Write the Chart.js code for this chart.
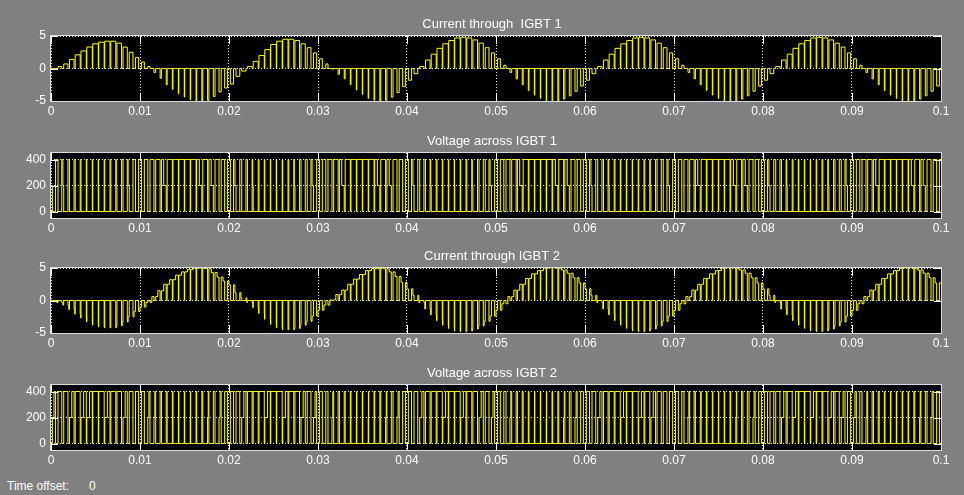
<!DOCTYPE html>
<html>
<head>
<meta charset="utf-8">
<script src="https://cdn.jsdelivr.net/npm/chart.js@4.4.0/dist/chart.umd.min.js"></script>
<style>
  body { margin: 0; width: 964px; height: 495px; background: #808080; position: relative; overflow: hidden;
         font-family: "Liberation Sans", Arial, sans-serif; }
  canvas { position: absolute; left: 0; display: block; }
  #offset { position: absolute; left: 7px; top: 479px; font-size: 12px; line-height: 14px; color: #ffffff; }
  #offset span { position: absolute; left: 82px; }
</style>
</head>
<body>
<canvas id="cur1" width="964" height="125" style="top:0px"></canvas>
<canvas id="volt1" width="964" height="125" style="top:117px"></canvas>
<canvas id="cur2" width="964" height="125" style="top:232px"></canvas>
<canvas id="volt2" width="964" height="125" style="top:349px"></canvas>
<div id="offset">Time offset:<span>0</span></div>
<script>
// Simulink scope: 4 traces, 0..0.1 s, one entry per switching period (150 periods)

const titles = ['Current through  IGBT 1', 'Voltage across IGBT 1', 'Current through IGBT 2', 'Voltage across IGBT 2'];
const xTicks = [0, 0.01, 0.02, 0.03, 0.04, 0.05, 0.06, 0.07, 0.08, 0.09, 0.1];
const xTickLabels = ['0', '0.01', '0.02', '0.03', '0.04', '0.05', '0.06', '0.07', '0.08', '0.09', '0.1'];
const currentTicks = [-5, 0, 5];
const voltageTicks = [0, 200, 400];

// load current level in each switching period (A)
const loadCurrent = [
  0.0, 0.3, 0.7, 1.4, 2.1, 2.7, 3.3, 3.8, 4.05, 4.2, 4.2, 3.9, 3.3, 2.5, 1.7, 1.0, 0.3, -0.6, -1.5, -2.5, -3.2, -3.9, -4.4, -4.8, -5.0, -5.0, -4.9, -4.3, -3.6, -3.0,
  -2.4, -1.2, -0.4, 0.3, 1.1, 2.0, 2.9, 3.7, 4.2, 4.5, 4.5, 4.3, 3.8, 3.2, 2.4, 1.5, 0.7, -0.1, -0.9, -1.6, -2.5, -3.3, -4.0, -4.6, -4.9, -5.0, -4.9, -4.4, -3.7, -2.8,
  -1.8, -0.8, 0.3, 1.3, 2.2, 3.1, 3.8, 4.3, 4.7, 4.8, 4.7, 4.4, 3.9, 3.2, 2.4, 1.5, 0.5, -0.6, -1.6, -2.5, -3.4, -4.1, -4.6, -5.0, -5.1, -5.0, -4.7, -4.2, -3.5, -2.7,
  -1.8, -0.8, 0.3, 1.3, 2.2, 3.1, 3.8, 4.3, 4.7, 4.8, 4.7, 4.4, 3.9, 3.2, 2.4, 1.5, 0.5, -0.6, -1.6, -2.5, -3.4, -4.1, -4.6, -5.0, -5.1, -5.0, -4.7, -4.2, -3.5, -2.7,
  -1.8, -0.8, 0.3, 1.3, 2.2, 3.1, 3.8, 4.3, 4.7, 4.8, 4.7, 4.4, 3.9, 3.3, 2.4, 1.5, 0.5, -0.6, -1.6, -2.5, -3.4, -4.1, -4.6, -5.0, -5.1, -5.0, -4.7, -4.2, -3.5, -2.7
];

// on-fraction of the upper switch in each period
const upperDuty = [
  0.54, 0.63, 0.71, 0.78, 0.84, 0.89, 0.92, 0.93, 0.92, 0.89, 0.84, 0.78, 0.71, 0.63, 0.54, 0.46, 0.37, 0.29, 0.22, 0.16, 0.11, 0.08, 0.07, 0.08, 0.11, 0.16, 0.22, 0.29, 0.37, 0.46,
  0.54, 0.63, 0.71, 0.78, 0.84, 0.89, 0.92, 0.93, 0.92, 0.89, 0.84, 0.78, 0.71, 0.63, 0.54, 0.46, 0.37, 0.29, 0.22, 0.16, 0.11, 0.08, 0.07, 0.08, 0.11, 0.16, 0.22, 0.29, 0.37, 0.46,
  0.54, 0.63, 0.71, 0.78, 0.84, 0.89, 0.92, 0.93, 0.92, 0.89, 0.84, 0.78, 0.71, 0.63, 0.54, 0.46, 0.37, 0.29, 0.22, 0.16, 0.11, 0.08, 0.07, 0.08, 0.11, 0.16, 0.22, 0.29, 0.37, 0.46,
  0.54, 0.63, 0.71, 0.78, 0.84, 0.89, 0.92, 0.93, 0.92, 0.89, 0.84, 0.78, 0.71, 0.63, 0.54, 0.46, 0.37, 0.29, 0.22, 0.16, 0.11, 0.08, 0.07, 0.08, 0.11, 0.16, 0.22, 0.29, 0.37, 0.46,
  0.54, 0.63, 0.71, 0.78, 0.84, 0.89, 0.92, 0.93, 0.92, 0.89, 0.84, 0.78, 0.71, 0.63, 0.54, 0.46, 0.37, 0.29, 0.22, 0.16, 0.11, 0.08, 0.07, 0.08, 0.11, 0.16, 0.22, 0.29, 0.37, 0.46
];

// periods where the voltage sits at the 200 V mid level for a while
const midStepV1 = [0, 2, 8, 11, 13, 19, 25, 27, 31, 34, 38, 41, 44, 49, 55, 57, 61, 64, 68, 71, 74, 79, 85, 87, 91, 94, 98, 101, 104, 109, 115, 117, 121, 124, 128, 131, 134, 139, 145, 147];
const midStepV2 = [0, 3, 5, 6, 9, 12, 16, 17, 21, 23, 26, 28, 32, 36, 39, 42, 44, 47, 51, 53, 56, 58, 62, 66, 69, 72, 74, 77, 81, 83, 86, 88, 92, 96, 99, 101, 107, 109, 112, 115, 118, 123, 125, 128, 131, 133, 135, 137, 141, 146, 148];

const T = 0.1 / loadCurrent.length;

function makeTrace(kind) {
  const pts = [];
  loadCurrent.forEach((cur, k) => {
    const t0 = k * T;
    const gap = (1 - upperDuty[k]) * T / 2;
    const tOn = t0 + gap, tOff = t0 + T - gap;
    if (kind === 'i1') {
      pts.push({ x: t0, y: 0 }, { x: tOn, y: cur }, { x: tOff, y: 0 });
    } else if (kind === 'i2') {
      pts.push({ x: t0, y: -cur }, { x: tOn, y: 0 }, { x: tOff, y: -cur });
    } else if (kind === 'v1') {
      pts.push({ x: t0, y: midStepV1.includes(k) ? 200 : 400 }, { x: tOn, y: 0 }, { x: tOff, y: 400 });
    } else {
      pts.push({ x: t0, y: 0 });
      if (midStepV2.includes(k)) pts.push({ x: tOn, y: 200 }, { x: (tOn + tOff) / 2, y: 400 });
      else pts.push({ x: tOn, y: 400 });
      pts.push({ x: tOff, y: 0 });
    }
  });
  pts.push({ x: 0.1, y: pts[pts.length - 1].y });
  return pts;
}

// black plot area, box, solid tick marks and the title
const scopeFrame = {
  id: 'scopeFrame',
  beforeDraw(chart) {
    const a = chart.chartArea, ctx = chart.ctx;
    ctx.save();
    ctx.fillStyle = '#000000';
    ctx.fillRect(a.left, a.top, a.right - a.left, a.bottom - a.top);
    ctx.restore();
  },
  afterDraw(chart, args, opts) {
    const a = chart.chartArea, ctx = chart.ctx;
    const xs = chart.scales.x, ys = chart.scales.y;
    ctx.save();
    ctx.strokeStyle = '#ffffff';
    ctx.lineWidth = 1;
    ctx.beginPath();
    xs.ticks.forEach(t => {
      const px = Math.round(xs.getPixelForValue(t.value)) + 0.5;
      ctx.moveTo(px, a.top); ctx.lineTo(px, a.top + 8);
      ctx.moveTo(px, a.bottom); ctx.lineTo(px, a.bottom - 8);
    });
    ys.ticks.forEach(t => {
      const py = Math.round(ys.getPixelForValue(t.value)) + 0.5;
      ctx.moveTo(a.left, py); ctx.lineTo(a.left + 7, py);
      ctx.moveTo(a.right, py); ctx.lineTo(a.right - 7, py);
    });
    ctx.stroke();
    ctx.strokeStyle = '#dcdcdc';
    ctx.strokeRect(a.left - 0.5, a.top - 0.5, a.right - a.left + 1, a.bottom - a.top + 1);
    ctx.fillStyle = '#ffffff';
    ctx.font = '13px "Liberation Sans", Arial, sans-serif';
    ctx.textAlign = 'center';
    ctx.textBaseline = 'middle';
    ctx.fillText(opts.title, (a.left + a.right) / 2 - 4, a.top - 12);
    ctx.restore();
  }
};

function scopeChart(id, title, points, yMin, yMax, yTicks) {
  return new Chart(document.getElementById(id), {
    type: 'line',
    data: {
      datasets: [{
        data: points,
        borderColor: '#ffff00',
        borderWidth: 1,
        pointRadius: 0,
        stepped: true,
        tension: 0
      }]
    },
    options: {
      responsive: false,
      animation: false,
      events: [],
      layout: { padding: { top: 36, right: 23, left: 0, bottom: 0 } },
      plugins: {
        legend: { display: false },
        tooltip: { enabled: false },
        scopeFrame: { title: title }
      },
      scales: {
        x: {
          type: 'linear',
          min: 0,
          max: 0.1,
          afterBuildTicks: s => { s.ticks = xTicks.map(v => ({ value: v })); },
          afterFit: s => { s.height = 24; },
          grid: { color: 'rgba(255,255,255,0.9)', drawTicks: false },
          border: { display: false, dash: [1, 2] },
          ticks: {
            color: '#ffffff',
            font: { size: 12, family: '"Liberation Sans", Arial, sans-serif' },
            padding: 3,
            maxRotation: 0,
            autoSkip: false,
            callback: (v, i) => xTickLabels[i]
          }
        },
        y: {
          min: yMin,
          max: yMax,
          afterBuildTicks: s => { s.ticks = yTicks.map(v => ({ value: v })); },
          afterFit: s => { s.width = 51; },
          grid: { color: 'rgba(255,255,255,0.9)', drawTicks: false },
          border: { display: false, dash: [1, 2] },
          ticks: {
            color: '#ffffff',
            font: { size: 12, family: '"Liberation Sans", Arial, sans-serif' },
            padding: 5,
            callback: v => String(v)
          }
        }
      }
    },
    plugins: [scopeFrame]
  });
}

scopeChart('cur1', titles[0], makeTrace('i1'), -5, 5, currentTicks);
scopeChart('volt1', titles[1], makeTrace('v1'), -50, 450, voltageTicks);
scopeChart('cur2', titles[2], makeTrace('i2'), -5, 5, currentTicks);
scopeChart('volt2', titles[3], makeTrace('v2'), -50, 450, voltageTicks);
</script>
</body>
</html>
